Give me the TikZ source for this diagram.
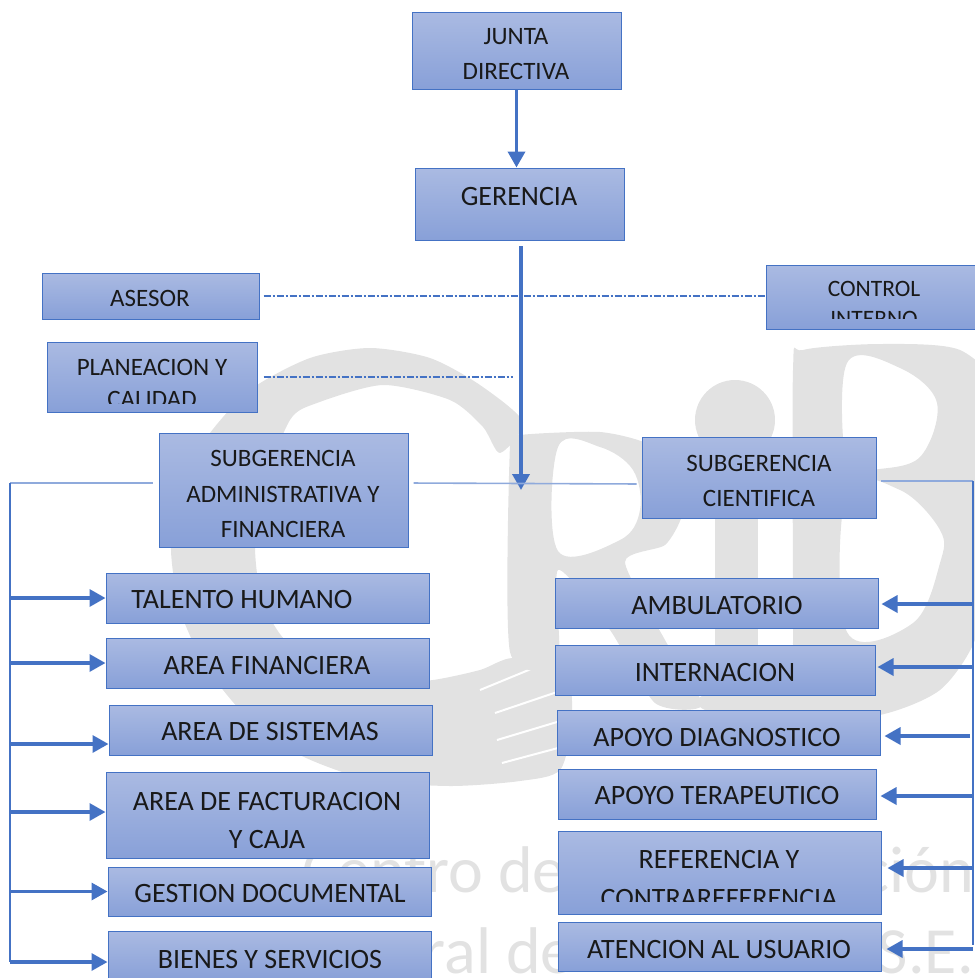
\documentclass[tikz,border=0pt]{standalone}
\usepackage{fontspec}
\setmainfont{Carlito}
\usetikzlibrary{arrows.meta, positioning}
\definecolor{boxtop}{RGB}{170,186,226}
\definecolor{boxbottom}{RGB}{136,160,216}
\definecolor{boxline}{RGB}{68,114,196}
\definecolor{thinline}{RGB}{143,170,220}
\definecolor{watermark}{RGB}{226,226,226}

\begin{document}
\begin{tikzpicture}[x=1pt,y=-1pt]
    \tikzstyle{unit}=[rectangle,draw=boxline,line width=1pt,top color=boxtop,bottom color=boxbottom,inner sep=0pt]
    \tikzstyle{label small}=[font=\fontsize{25}{35.5}\selectfont,align=center,text=black!90,inner sep=0pt]
    \tikzstyle{label big}=[font=\fontsize{28}{38}\selectfont,align=center,text=black!90,inner sep=0pt]
    \tikzstyle{main arrow}=[draw=boxline,line width=3.6pt,-{Triangle[width=17pt,length=16pt]}]
    \tikzstyle{branch}=[draw=boxline,line width=3.4pt,-{Triangle[width=17pt,length=16pt]}]
    \tikzstyle{advice}=[draw=boxline,line width=1.5pt,dash pattern=on 7pt off 2pt on 2pt off 2pt]
    \tikzstyle{link}=[draw=thinline,line width=1.6pt]
    \tikzstyle{bus}=[draw=boxline,line width=1.1pt]
    \tikzstyle{mark text}=[font=\fontsize{66}{66}\selectfont,text=watermark,inner sep=0pt,text depth=0pt]

    \useasboundingbox (0,0) rectangle (975,978);

    % watermark behind the chart
    \fill[watermark] plot[smooth cycle,tension=0.45] coordinates {(523,422) (480,385) (430,358) (370,348) (310,358) (250,390) (205,440) (178,500) (171,550) (180,610) (205,665) (245,715) (300,755) (370,780) (450,786) (520,781) (560,770) (572,720) (565,670) (513,658) (480,670) (433,680) (390,682) (330,670) (285,640) (262,600) (255,547) (262,490) (290,420) (317,403) (383,385) (450,400) (483,427) (500,453)};
    \draw[white,line width=2pt] (480,690) -- (553,660) (495,713) -- (563,690) (497,740) -- (557,722) (502,763) -- (558,748);
    \fill[watermark,even odd rule] plot[smooth cycle,tension=0.4] coordinates {(510,445) (520,435) (600,432) (650,445) (678,480) (682,515) (665,545) (625,562) (665,640) (702,705) (655,703) (610,630) (558,570) (558,665) (510,652)}
        plot[smooth cycle,tension=0.6] coordinates {(558,447) (600,447) (633,470) (640,510) (620,540) (558,551)};
    \fill[watermark] (735,420) circle (40pt);
    \fill[watermark] (715,500) rectangle (758,645);
    \fill[watermark,even odd rule] plot[smooth cycle,tension=0.45] coordinates {(793,370) (803,350) (880,344) (960,350) (1010,400) (1000,470) (990,560) (975,640) (940,690) (880,715) (780,725) (705,710) (705,695) (790,690) (793,640)}
        plot[smooth cycle,tension=0.6] coordinates {(847,363) (900,368) (937,403) (920,457) (873,470) (847,472)}
        plot[smooth cycle,tension=0.6] coordinates {(847,490) (900,490) (940,530) (940,563) (913,623) (847,632)};
    \node[mark text,anchor=base west] (mark centro) at (302,892) {Centro de};
    \node[mark text,anchor=base east] (mark cion) at (974,892) {ción};
    \node[mark text,anchor=base east] (mark ral) at (574,973) {ral de};
    \node[mark text,anchor=base east] (mark se) at (974,973) {S.E.};

    % top of the chart
    \node[unit,minimum width=209pt,minimum height=77pt] (junta) at (516.5,50.5) {};
    \node[label small] (junta text) at (516,54) {JUNTA\\DIRECTIVA};
    \node[unit,minimum width=209pt,minimum height=72pt] (gerencia) at (519.5,204) {};
    \node[label big] (gerencia text) at (519,197) {GERENCIA};
    \node[unit,minimum width=217pt,minimum height=46pt] (asesor) at (150.5,296) {};
    \node[label small] (asesor text) at (150,298) {ASESOR};
    \node[unit,minimum width=209pt,minimum height=64pt] (control) at (870.5,297) {};
    \begin{scope}
        \clip (766,265) rectangle (975,318);
        \node[label small,font=\fontsize{23.5}{30}\selectfont] (control text) at (874,304) {CONTROL\\INTERNO};
    \end{scope}
    \node[unit,minimum width=210pt,minimum height=70pt] (planeacion) at (152,377) {};
    \begin{scope}
        \clip (47,342) rectangle (257,403);
        \node[label small,font=\fontsize{25}{32}\selectfont] (planeacion text) at (152,383) {PLANEACION Y\\CALIDAD};
    \end{scope}

    % subgerencias
    \node[unit,minimum width=249pt,minimum height=114pt] (administrativa) at (283.5,490) {};
    \node[label small] (administrativa text) at (283,494) {SUBGERENCIA\\ADMINISTRATIVA Y\\FINANCIERA};
    \node[unit,minimum width=234pt,minimum height=81pt] (cientifica) at (759,477.5) {};
    \node[label small] (cientifica text) at (759,481) {SUBGERENCIA\\CIENTIFICA};

    % left column
    \node[unit,minimum width=323pt,minimum height=50pt] (talento) at (267.5,598) {};
    \node[label big] (talento text) at (242,600) {TALENTO HUMANO};
    \node[unit,minimum width=323pt,minimum height=50pt] (financiera) at (267.5,663) {};
    \node[label big] (financiera text) at (267,666) {AREA FINANCIERA};
    \node[unit,minimum width=323pt,minimum height=50pt] (sistemas) at (270.5,730) {};
    \node[label big] (sistemas text) at (270,732) {AREA DE SISTEMAS};
    \node[unit,minimum width=323pt,minimum height=86pt] (facturacion) at (267.5,815) {};
    \node[label big] (facturacion text) at (267,820) {AREA DE FACTURACION\\Y CAJA};
    \node[unit,minimum width=323pt,minimum height=49pt] (gestion) at (269.5,891.5) {};
    \node[label big] (gestion text) at (270,894) {GESTION DOCUMENTAL};
    \node[unit,minimum width=323pt,minimum height=50pt] (bienes) at (269.5,956) {};
    \node[label big] (bienes text) at (270,959) {BIENES Y SERVICIOS};

    % right column
    \node[unit,minimum width=323pt,minimum height=50pt] (ambulatorio) at (716.5,603) {};
    \node[label big] (ambulatorio text) at (717,606) {AMBULATORIO};
    \node[unit,minimum width=320pt,minimum height=50pt] (internacion) at (715,670) {};
    \node[label big] (internacion text) at (715,673) {INTERNACION};
    \node[unit,minimum width=323pt,minimum height=45pt] (diagnostico) at (718.5,732.5) {};
    \node[label big] (diagnostico text) at (717,737) {APOYO DIAGNOSTICO};
    \node[unit,minimum width=318pt,minimum height=50pt] (terapeutico) at (717,794) {};
    \node[label big] (terapeutico text) at (717,796) {APOYO TERAPEUTICO};
    \node[unit,minimum width=323pt,minimum height=83pt] (referencia) at (719.5,872.5) {};
    \begin{scope}
        \clip (558,831) rectangle (881,901);
        \node[label big,font=\fontsize{28}{39}\selectfont] (referencia text) at (719,878.5) {REFERENCIA Y\\CONTRAREFERENCIA};
    \end{scope}
    \node[unit,minimum width=323pt,minimum height=49pt] (atencion) at (719.5,946.5) {};
    \node[label big] (atencion text) at (719,950) {ATENCION AL USUARIO};

    \coordinate (left bus) at (10,483);
    \coordinate (right bus) at (973,481);
    \coordinate (right end) at (973,945);
    \coordinate (left end) at (10,962);
    \coordinate (gerencia out) at (521,246);
    \coordinate (gerencia tip) at (521,490);
    \coordinate (planeacion end) at (513,377);

    \draw[main arrow] (junta.south) -- (gerencia.north -| junta.south);
    \draw[main arrow] (gerencia out) -- (gerencia tip);

    \draw[advice,shorten <=4pt] (asesor.east) -- (control.west |- asesor.east);
    \draw[advice,shorten <=6pt] (planeacion.east) -- (planeacion end);

    \draw[link,shorten <=5pt,shorten >=5pt] (administrativa.east |- left bus) -- ([yshift=-6.5pt]cientifica.west);
    \draw[link,shorten >=6pt] (left bus) -- (left bus -| administrativa.west);
    \draw[link,shorten >=4pt] (right bus) -- (right bus -| cientifica.east);
    \draw[bus] (left bus) -- (left end);
    \draw[bus] (right bus) -- (right end);

    \draw[branch] (left bus |- talento.west) -- (talento.west);
    \draw[branch] (left bus |- financiera.west) -- (financiera.west);
    \draw[branch] ([yshift=-14pt]left bus |- sistemas.west) -- ([yshift=-14pt]sistemas.west);
    \draw[branch] ([yshift=3pt]left bus |- facturacion.west) -- ([yshift=3pt]facturacion.west);
    \draw[branch] (left bus |- gestion.west) -- (gestion.west);
    \draw[branch] ([yshift=-6pt]left bus |- bienes.west) -- ([yshift=-6pt]bienes.west);

    \draw[branch,shorten >=3pt] ([yshift=-1pt]right bus |- ambulatorio.east) -- ([yshift=-1pt]ambulatorio.east);
    \draw[branch,shorten >=2pt] (right bus |- internacion.east) ++(0,-3) -- ([yshift=3pt]internacion.east);
    \draw[branch,shorten >=4pt,shorten <=3pt] ([yshift=-3.5pt]right bus |- diagnostico.east) -- ([yshift=-3.5pt]diagnostico.east);
    \draw[branch,shorten >=4pt] ([yshift=-2pt]right bus |- terapeutico.east) -- ([yshift=-2pt]terapeutico.east);
    \draw[branch,shorten >=6pt] ([yshift=4.5pt]right bus |- referencia.east) -- ([yshift=4.5pt]referencia.east);
    \draw[branch,shorten >=5pt] ([yshift=-2.5pt]right bus |- atencion.east) -- ([yshift=-2.5pt]atencion.east);
\end{tikzpicture}
\end{document}
